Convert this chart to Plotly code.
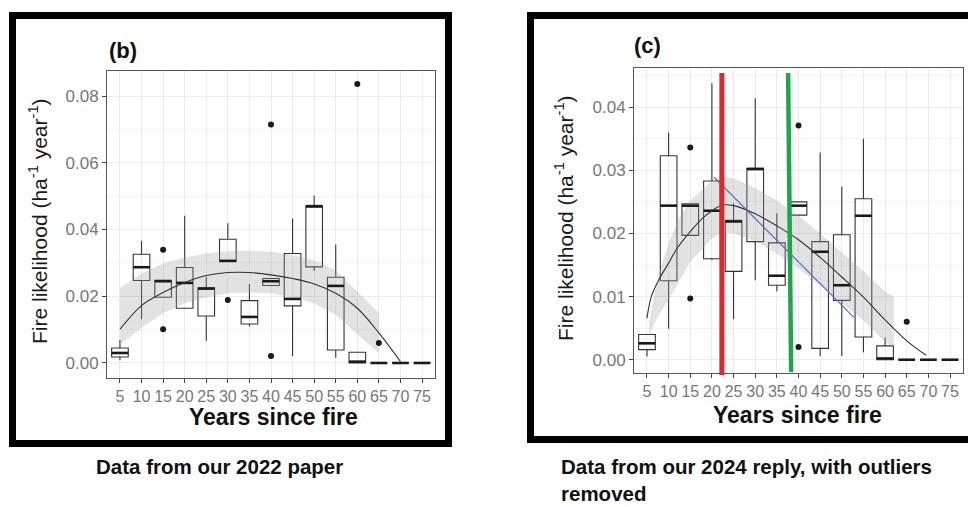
import plotly.graph_objects as go

# ---- categories ----
years = [5, 10, 15, 20, 25, 30, 35, 40, 45, 50, 55, 60, 65, 70, 75]
tick_labels = [str(y) for y in years]

# ---- panel (b): 2022 data, box statistics ----
b_lower = [0.0008, 0.0131, 0.0197, 0.0164, 0.0067, 0.0304, 0.0109, 0.0232, 0.0020, 0.0276, 0.0016, 0.0, 0.0, 0.0, 0.0]
b_q1 = [0.0018, 0.0247, 0.0197, 0.0164, 0.0141, 0.0304, 0.0117, 0.0232, 0.0171, 0.0288, 0.0039, 0.0, 0.0, 0.0, 0.0]
b_median = [0.0030, 0.0287, 0.0245, 0.0240, 0.0223, 0.0306, 0.0138, 0.0245, 0.0192, 0.0470, 0.0231, 0.0004, 0.0, 0.0, 0.0]
b_q3 = [0.0045, 0.0326, 0.0248, 0.0286, 0.0225, 0.0371, 0.0187, 0.0253, 0.0328, 0.0470, 0.0257, 0.0032, 0.0, 0.0, 0.0]
b_upper = [0.0069, 0.0366, 0.0248, 0.0441, 0.0258, 0.0419, 0.0237, 0.0253, 0.0433, 0.0502, 0.0355, 0.0032, 0.0, 0.0, 0.0]
b_out_year = [15, 15, 30, 40, 40, 60, 65]
b_out_val = [0.0339, 0.0101, 0.0189, 0.0715, 0.0021, 0.0836, 0.0060]

# fitted curve and confidence band for (b)
b_fit_year = [5, 10, 15, 20, 25, 30, 35, 40, 45, 50, 55, 60, 65, 70]
b_fit_val = [0.0101, 0.0172, 0.0211, 0.0241, 0.0262, 0.0271, 0.0271, 0.0264, 0.0253, 0.0237, 0.0209, 0.0164, 0.0090, 0.0004]
b_band_year = [5, 10, 15, 20, 25, 30, 35, 40, 45, 50, 55, 60, 65]
b_band_hi = [0.0224, 0.0268, 0.0298, 0.0316, 0.0328, 0.0335, 0.0336, 0.0333, 0.0323, 0.0308, 0.0278, 0.0215, 0.0150]
b_band_lo = [0.0055, 0.0105, 0.0149, 0.0179, 0.0197, 0.0209, 0.0211, 0.0209, 0.0197, 0.0179, 0.0144, 0.0085, 0.0030]

# ---- panel (c): 2024 data with outliers removed ----
c_lower = [0.0005, 0.0049, 0.0197, 0.0158, 0.0064, 0.0126, 0.0108, 0.0229, 0.0006, 0.0006, 0.0012, 0.0, 0.0, 0.0, 0.0]
c_q1 = [0.0016, 0.0125, 0.0197, 0.0160, 0.0140, 0.0187, 0.0118, 0.0229, 0.0018, 0.0094, 0.0036, 0.0, 0.0, 0.0, 0.0]
c_median = [0.0026, 0.0244, 0.0244, 0.0236, 0.0219, 0.0302, 0.0133, 0.0244, 0.0171, 0.0118, 0.0228, 0.0002, 0.0, 0.0, 0.0]
c_q3 = [0.0040, 0.0323, 0.0247, 0.0283, 0.0221, 0.0303, 0.0185, 0.0250, 0.0187, 0.0198, 0.0255, 0.0022, 0.0, 0.0, 0.0]
c_upper = [0.0040, 0.0360, 0.0247, 0.0438, 0.0248, 0.0414, 0.0232, 0.0250, 0.0328, 0.0274, 0.0350, 0.0035, 0.0, 0.0, 0.0]
c_out_year = [15, 15, 40, 40, 65]
c_out_val = [0.0336, 0.0097, 0.0371, 0.0020, 0.0060]

c_fit_year = [5, 6, 8, 10, 12, 15, 18, 20, 22.5, 25, 30, 35, 40, 45, 50, 55, 60, 65, 69.5]
c_fit_val = [0.0066, 0.0100, 0.0130, 0.0153, 0.0177, 0.0203, 0.0225, 0.0236, 0.0245, 0.0244, 0.0231, 0.0212, 0.0190, 0.0162, 0.0131, 0.0099, 0.0063, 0.0030, 0.0007]
c_band_year = [5.5, 7.5, 10, 12.5, 15, 20, 22.5, 25, 30, 35, 40, 45, 50, 55, 60, 62]
c_band_hi = [0.0060, 0.0130, 0.0185, 0.0225, 0.0252, 0.0283, 0.0290, 0.0287, 0.0272, 0.0252, 0.0228, 0.0200, 0.0170, 0.0140, 0.0108, 0.0100]
c_band_lo = [0.0040, 0.0068, 0.0095, 0.0125, 0.0155, 0.0192, 0.0202, 0.0200, 0.0188, 0.0168, 0.0145, 0.0118, 0.0090, 0.0062, 0.0028, 0.0020]

# linear trend segment and breakpoint markers drawn over (c)
c_trend_year = [20.5, 52.8]
c_trend_val = [0.0289, 0.0067]
red_break_year = 22.3
green_break_year = [37.6, 38.3]

W, H = 968, 507
BOX_W = 0.77
FONT = "Liberation Sans, Arial, sans-serif"


def idx(y):
    return (y - 5) / 5.0


def px_x(p):
    return p / W


def px_y(p):
    return 1 - p / H


fig = go.Figure()


def add_panel(xa, ya, lower, q1, med, q3, upper, oy, ov, fy, fv, by, bhi, blo):
    pos = [idx(y) for y in years]
    # confidence band
    bx = [idx(y) for y in by]
    fig.add_trace(go.Scatter(x=bx + bx[::-1], y=bhi + blo[::-1], fill="toself",
                             fillcolor="rgba(160,160,160,0.30)", line=dict(width=0),
                             mode="lines", hoverinfo="skip", showlegend=False,
                             xaxis=xa, yaxis=ya))
    # boxes
    fig.add_trace(go.Box(x=pos, q1=q1, median=med, q3=q3, lowerfence=lower,
                         upperfence=upper, width=BOX_W, whiskerwidth=0,
                         boxpoints=False, fillcolor="rgba(255,255,255,0)",
                         line=dict(color="#333333", width=1.1),
                         showlegend=False, xaxis=xa, yaxis=ya))
    # thicker median bars
    mx, my = [], []
    for p, m in zip(pos, med):
        mx += [p - BOX_W / 2, p + BOX_W / 2, None]
        my += [m, m, None]
    fig.add_trace(go.Scatter(x=mx, y=my, mode="lines",
                             line=dict(color="#1a1a1a", width=2.6),
                             hoverinfo="skip", showlegend=False, xaxis=xa, yaxis=ya))
    # outliers
    fig.add_trace(go.Scatter(x=[idx(y) for y in oy], y=ov, mode="markers",
                             marker=dict(color="#1a1a1a", size=6),
                             showlegend=False, xaxis=xa, yaxis=ya))
    # fitted curve
    fig.add_trace(go.Scatter(x=[idx(y) for y in fy], y=fv, mode="lines",
                             line=dict(color="#333333", width=1.1, shape="spline"),
                             hoverinfo="skip", showlegend=False, xaxis=xa, yaxis=ya))


add_panel("x", "y", b_lower, b_q1, b_median, b_q3, b_upper, b_out_year, b_out_val,
          b_fit_year, b_fit_val, b_band_year, b_band_hi, b_band_lo)
add_panel("x2", "y2", c_lower, c_q1, c_median, c_q3, c_upper, c_out_year, c_out_val,
          c_fit_year, c_fit_val, c_band_year, c_band_hi, c_band_lo)

# trend line on (c)
fig.add_trace(go.Scatter(x=[idx(y) for y in c_trend_year], y=c_trend_val, mode="lines",
                         line=dict(color="#4a74c9", width=1.2), hoverinfo="skip",
                         showlegend=False, xaxis="x2", yaxis="y2"))

axis_common = dict(showline=True, mirror=True, linecolor="#555555", linewidth=1,
                   ticks="outside", ticklen=4, tickcolor="#444444", zeroline=False,
                   gridcolor="#ebebeb", gridwidth=1)
xtick_font = dict(family=FONT, size=16, color="#777777")
ytick_font = dict(family=FONT, size=17, color="#777777")

fig.update_layout(
    width=W, height=H, margin=dict(l=0, r=0, t=0, b=0),
    paper_bgcolor="white", plot_bgcolor="white", showlegend=False,
    xaxis=dict(domain=[px_x(107), px_x(435)], range=[-0.6, 14.6],
               tickvals=list(range(15)), ticktext=tick_labels, anchor="y",
               tickfont=xtick_font, **axis_common),
    yaxis=dict(domain=[px_y(378), px_y(71)], range=[-0.0045, 0.0875],
               tickvals=[0, 0.02, 0.04, 0.06, 0.08], tickformat=".2f", anchor="x",
               minor=dict(tick0=0, dtick=0.01, showgrid=True, gridcolor="#f4f4f4", ticks=""),
               tickfont=ytick_font, **axis_common),
    xaxis2=dict(domain=[px_x(634), px_x(963)], range=[-0.6, 14.6],
                tickvals=list(range(15)), ticktext=tick_labels, anchor="y2",
                tickfont=xtick_font, **axis_common),
    yaxis2=dict(domain=[px_y(373), px_y(68)], range=[-0.0021, 0.0462],
                tickvals=[0, 0.01, 0.02, 0.03, 0.04], tickformat=".2f", anchor="x2",
                minor=dict(tick0=0, dtick=0.005, showgrid=True, gridcolor="#f4f4f4", ticks=""),
                tickfont=ytick_font, **axis_common),
)

shapes = [
    # panel frames
    dict(type="rect", xref="paper", yref="paper", x0=px_x(12.5), x1=px_x(448.5),
         y0=px_y(443.5), y1=px_y(15.5), line=dict(color="black", width=7)),
    dict(type="rect", xref="paper", yref="paper", x0=px_x(530.5), x1=px_x(990),
         y0=px_y(439.5), y1=px_y(15.5), line=dict(color="black", width=7)),
    # breakpoint markers
    dict(type="line", xref="x2", yref="paper", x0=idx(red_break_year), x1=idx(red_break_year),
         y0=px_y(375), y1=px_y(73), line=dict(color="#e3262b", width=5)),
    dict(type="line", xref="x2", yref="paper", x0=idx(green_break_year[1]), x1=idx(green_break_year[0]),
         y0=px_y(372), y1=px_y(73), line=dict(color="#1fa54a", width=4.5)),
]
fig.update_layout(shapes=shapes)

ytitle = "Fire likelihood (ha<sup>-1</sup> year<sup>-1</sup>)"
CAP_FONT = dict(family=FONT, size=20.5, color="#111111")
ann = [
    dict(text="<b>(b)</b>", x=px_x(107), y=px_y(50), xanchor="left", yanchor="middle",
         font=dict(family=FONT, size=22, color="#111111")),
    dict(text="<b>(c)</b>", x=px_x(632), y=px_y(45), xanchor="left", yanchor="middle",
         font=dict(family=FONT, size=22, color="#111111")),
    dict(text=ytitle, textangle=-90, x=px_x(38), y=px_y(221), xanchor="center", yanchor="middle",
         font=dict(family=FONT, size=21, color="#1a1a1a")),
    dict(text=ytitle, textangle=-90, x=px_x(564), y=px_y(218), xanchor="center", yanchor="middle",
         font=dict(family=FONT, size=21, color="#1a1a1a")),
    dict(text="<b>Years since fire</b>", x=px_x(273), y=px_y(417), xanchor="center", yanchor="middle",
         font=dict(family=FONT, size=23, color="#111111")),
    dict(text="<b>Years since fire</b>", x=px_x(797), y=px_y(415), xanchor="center", yanchor="middle",
         font=dict(family=FONT, size=23, color="#111111")),
    dict(text="<b>Data from our 2022 paper</b>", x=px_x(219), y=px_y(466), xanchor="center",
         yanchor="middle", font=CAP_FONT),
    dict(text="<b>Data from our 2024 reply, with outliers<br>removed</b>", x=px_x(559), y=px_y(480),
         xanchor="left", yanchor="middle", align="left", font=CAP_FONT),
]
for a in ann:
    a.update(xref="paper", yref="paper", showarrow=False)
fig.update_layout(annotations=ann)

fig.write_html("out.html")
